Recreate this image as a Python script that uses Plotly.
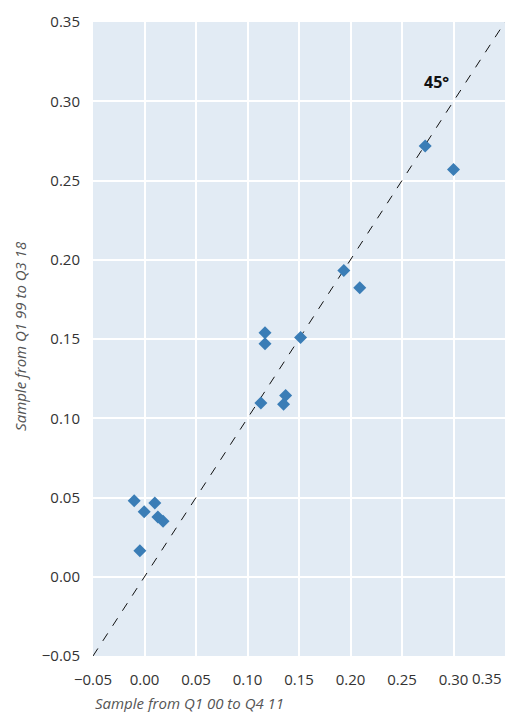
import plotly.graph_objects as go

# Coefficient estimates from the two samples
early_sample = [-0.010, 0.010, -0.0003, 0.013, 0.018, -0.0045,
                0.117, 0.117, 0.1515, 0.113, 0.137, 0.135,
                0.2725, 0.300, 0.1935, 0.209]
late_sample = [0.048, 0.0465, 0.041, 0.0377, 0.035, 0.0164,
               0.154, 0.147, 0.151, 0.1097, 0.1143, 0.1088,
               0.2717, 0.2569, 0.1932, 0.1823]

axis_min, axis_max = -0.05, 0.35
tick_vals = [-0.05, 0.00, 0.05, 0.10, 0.15, 0.20, 0.25, 0.30, 0.35]
tick_text = ["\u22120.05", "0.00", "0.05", "0.10", "0.15", "0.20", "0.25", "0.30", "0.35"]

FONT = "Open Sans"
TICK_COLOR = "#333333"
TITLE_COLOR = "#555555"
X_STANDOFF = 13

fig = go.Figure()

# 45-degree reference line
fig.add_trace(go.Scatter(
    x=[axis_min, axis_max], y=[axis_min, axis_max],
    mode="lines",
    line=dict(color="#111111", width=1, dash="dash"),
    hoverinfo="skip", showlegend=False,
))

fig.add_trace(go.Scatter(
    x=early_sample, y=late_sample,
    mode="markers",
    marker=dict(symbol="diamond", size=10, color="#3a7db6"),
    showlegend=False,
))

fig.update_layout(
    width=505, height=712,
    margin=dict(l=93, r=0, t=22, b=56),
    paper_bgcolor="white",
    plot_bgcolor="#e2ebf4",
    font=dict(family=FONT, size=15, color=TICK_COLOR),
)

fig.update_xaxes(
    range=[axis_min, axis_max],
    tickvals=tick_vals[:-1], ticktext=tick_text[:-1],
    showgrid=True, gridcolor="white", gridwidth=1.5,
    zeroline=False, showline=False, ticks="",
    ticklabelstandoff=X_STANDOFF,
    tickfont=dict(family=FONT, size=15, color=TICK_COLOR),
)
fig.update_yaxes(
    range=[axis_min, axis_max],
    tickvals=tick_vals, ticktext=tick_text,
    showgrid=True, gridcolor="white", gridwidth=1.5,
    zeroline=False, showline=False, ticks="",
    ticklabelstandoff=12,
    tickfont=dict(family=FONT, size=15, color=TICK_COLOR),
)

# Last x tick label, right-aligned so it stays inside the page
fig.add_annotation(
    x=tick_vals[-1], xref="x", y=0, yref="paper",
    text=tick_text[-1], showarrow=False,
    xanchor="right", yanchor="top", yshift=-(X_STANDOFF - 3), xshift=-1,
    font=dict(family=FONT, size=15, color=TICK_COLOR),
)

# Axis titles
fig.add_annotation(
    x=0, xref="paper", y=-0.074, yref="paper",
    text="<i>Sample from Q1 00 to Q4 11</i>", showarrow=False,
    xanchor="left", yanchor="middle",
    font=dict(family=FONT, size=15, color=TITLE_COLOR),
)
fig.add_annotation(
    x=-0.177, xref="paper", y=0.505, yref="paper",
    text="<i>Sample from Q1 99 to Q3 18</i>", showarrow=False,
    textangle=-90, xanchor="center", yanchor="middle",
    font=dict(family=FONT, size=15, color=TITLE_COLOR),
)

# Label for the reference line
fig.add_annotation(
    x=0.2836, y=0.3124, xref="x", yref="y",
    text="<b>45°</b>", showarrow=False,
    font=dict(family=FONT, size=16, color="#111111"),
)

fig.write_html("out.html")
